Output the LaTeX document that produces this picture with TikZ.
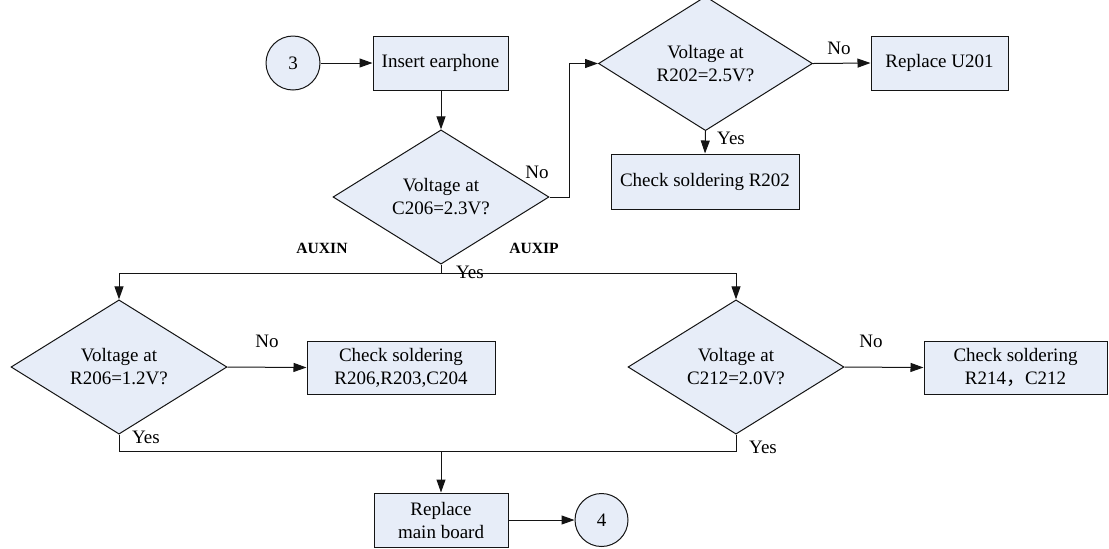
\documentclass[tikz,border=0pt]{standalone}
\usepackage{fontspec}
\setmainfont{Liberation Serif}
\newfontfamily\cjk{Noto Sans CJK SC}
\usetikzlibrary{shapes.geometric,arrows.meta}
\definecolor{fillb}{RGB}{231,237,248}
\definecolor{linec}{RGB}{20,20,20}
\tikzset{
  base/.style={draw=linec,fill=fillb,line width=0.5pt,inner sep=0pt,align=center,
    font=\fontsize{9.5}{11.5}\selectfont},
  boxn/.style={base,rectangle},
  dia/.style={base,diamond,minimum width=108pt,minimum height=54pt},
  circ/.style={base,circle},
  arr/.style={draw=linec,line width=0.5pt,-{Triangle[length=6.5pt,width=4.5pt]}},
  ln/.style={draw=linec,line width=0.5pt},
  lbl/.style={font=\fontsize{9.5}{11}\selectfont,inner sep=0pt},
  aux/.style={font=\fontsize{7.8}{9}\selectfont\bfseries,inner sep=0pt}
}
\begin{document}
\begin{tikzpicture}[x=0.5pt,y=-0.5pt]
\useasboundingbox (0,0) rectangle (1109,548);
% nodes
\node[circ,minimum size=27pt] (c3) at (293,63) {3};
\node[boxn,minimum width=67.5pt,minimum height=27pt] (ins) at (440.5,63) {Insert earphone};
\node[dia] (d1) at (441,197) {Voltage at\\C206=2.3V?};
\node[dia,minimum width=107pt,minimum height=54.5pt] (d2) at (705.5,63.5) {Voltage at\\R202=2.5V?};
\node[boxn,minimum width=68.5pt,minimum height=27pt] (u201) at (939.5,63) {Replace U201};
\node[boxn,minimum width=94pt,minimum height=27.5pt] (r202) at (705,181.5) {Check soldering R202};
\node[dia] (d3) at (119,367) {Voltage at\\R206=1.2V?};
\node[boxn,minimum width=94pt,minimum height=26.5pt] (r206) at (401,367.5) {Check soldering\\R206,R203,C204};
\node[dia] (d4) at (736,367) {Voltage at\\C212=2.0V?};
\node[boxn,minimum width=91.5pt,minimum height=26.5pt] (r214) at (1015.5,367.5) {Check soldering\\R214{\cjk ，}C212};
\node[boxn,minimum width=67pt,minimum height=27pt] (mb) at (441,520) {Replace\\main board};
\node[circ,minimum size=26.5pt] (c4) at (601.5,520) {4};
% junction coordinates
\coordinate (j1) at (569,63.5);
\coordinate (t1) at (441,273);
\coordinate (b1) at (441,451);
% connectors
\draw[arr] (c3.east) -- (ins.west);
\draw[arr] (ins.south -| d1.north) -- (d1.north);
\draw[arr] (d1.east) -| (j1) -- (d2.west);
\draw[arr] (d2.east) -- (u201.west);
\draw[arr] (d2.south) -- (r202.north);
\draw[ln] (d1.south) -- (t1);
\draw[arr] (t1) -| (d3.north);
\draw[arr] (t1) -| (d4.north);
\draw[arr] (d3.east) -- (r206.west);
\draw[arr] (d4.east) -- (r214.west);
\draw[ln] (d3.south) |- (b1);
\draw[ln] (d4.south) |- (b1);
\draw[arr] (b1) -- (mb.north);
\draw[arr] (mb.east) -- (c4.west);
% labels
\node[lbl] (l1) at (537,172) {No};
\node[lbl] (l2) at (839,48) {No};
\node[lbl] (l3) at (731,138) {Yes};
\node[aux] (l4) at (322,248) {AUXIN};
\node[aux] (l5) at (534,248) {AUXIP};
\node[lbl] (l6) at (470,272) {Yes};
\node[lbl] (l7) at (267,341) {No};
\node[lbl] (l8) at (871,341) {No};
\node[lbl] (l9) at (146,437) {Yes};
\node[lbl] (l10) at (763,447) {Yes};
\end{tikzpicture}
\end{document}
